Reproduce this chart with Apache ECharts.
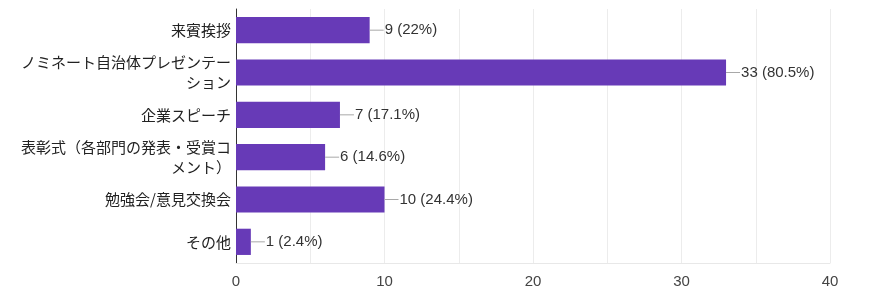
<!DOCTYPE html>
<html><head><meta charset="utf-8">
<script src="https://cdn.jsdelivr.net/npm/echarts@6/dist/echarts.min.js"></script>
<style>html,body{margin:0;padding:0;background:#fff}#c{width:883px;height:304px}</style>
</head><body><div id="c"></div>
<script>
const categories = ['来賓挨拶','ノミネート自治体プレゼンテーション','企業スピーチ','表彰式（各部門の発表・受賞コメント）','勉強会/意見交換会','その他'];
const counts = [9, 33, 7, 6, 10, 1];
const percents = ['22%','80.5%','17.1%','14.6%','24.4%','2.4%'];
const xTicks = [0, 10, 20, 30, 40];

const chart = echarts.init(document.getElementById('c'));
chart.setOption({
  animation: false,
  grid: {left: 236, right: 53, top: 9, bottom: 41, containLabel: false},
  xAxis: {
    type: 'value', min: 0, max: 40, interval: 5,
    axisLine: {show: true, lineStyle: {color: '#e8e8e8'}},
    axisTick: {show: false},
    splitLine: {show: true, lineStyle: {color: '#ececec', width: 1}},
    axisLabel: {
      margin: 11, color: '#444', fontSize: 15, fontFamily: 'Liberation Sans, Arial, sans-serif',
      formatter: v => xTicks.indexOf(v) >= 0 ? String(v) : ''
    }
  },
  yAxis: {
    type: 'category', inverse: true, data: categories,
    axisLine: {show: true, lineStyle: {color: '#333', width: 1}},
    axisTick: {show: false},
    splitLine: {show: false},
    axisLabel: {
      margin: 5, color: '#222', fontSize: 15, lineHeight: 20, width: 212, overflow: 'break', align: 'right',
      fontFamily: 'Noto Sans CJK JP, sans-serif'
    }
  },
  series: [{
    type: 'bar', data: counts, barCategoryGap: '38%',
    itemStyle: {color: '#673ab7'},
    label: {
      show: true, position: 'right', distance: 0,
      formatter: p => '{l|}{v|' + counts[p.dataIndex] + ' (' + percents[p.dataIndex] + ')}',
      rich: {
        l: {width: 14, height: 1, backgroundColor: '#a8a8a8'},
        v: {color: '#333', fontSize: 15, fontFamily: 'Liberation Sans, Arial, sans-serif', padding: [0,0,0,1]}
      }
    }
  }]
});
</script></body></html>
